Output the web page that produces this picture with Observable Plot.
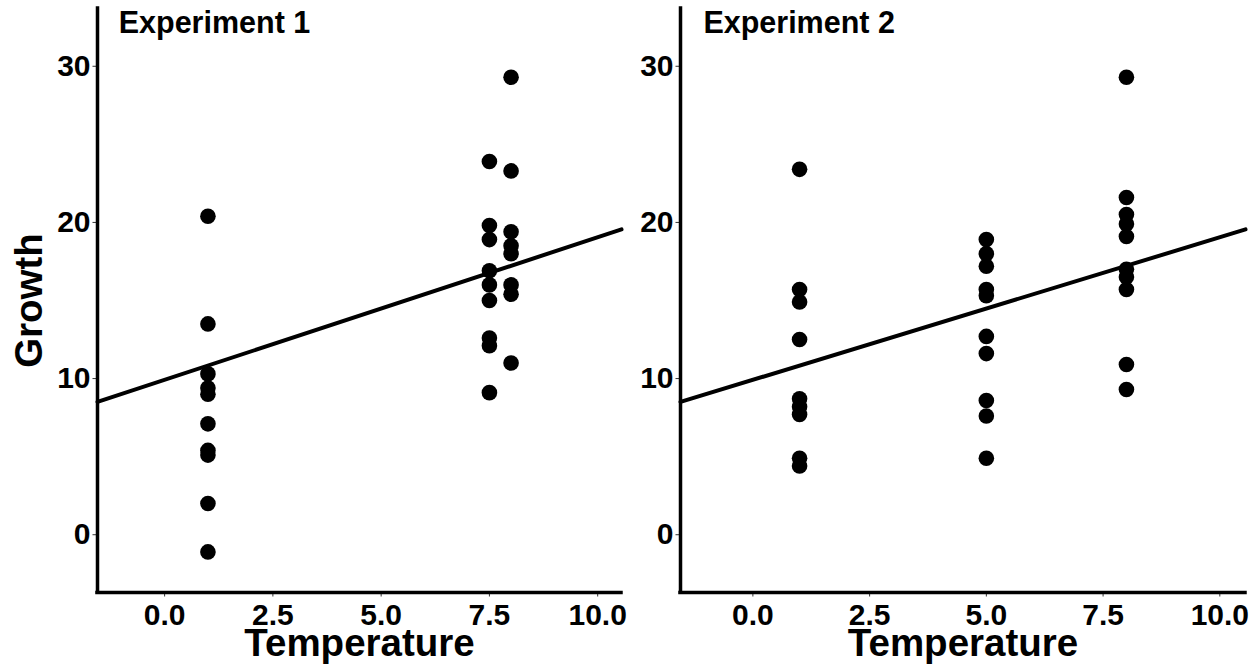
<!DOCTYPE html>
<html>
<head>
<meta charset="utf-8">
<script src="https://cdn.jsdelivr.net/npm/d3@7"></script>
<script src="https://cdn.jsdelivr.net/npm/@observablehq/plot@0.6"></script>
<style>
  html, body { margin: 0; padding: 0; background: #fff; }
  #wrap { display: flex; width: 1260px; height: 671px; }
</style>
</head>
<body>
<div id="wrap"></div>
<script>
// ---- data ----
const panelTitles = ["Experiment 1", "Experiment 2"];
const xLabel = "Temperature";
const yLabel = "Growth";

const exp1Temp   = [1, 1, 1, 1, 1, 1, 1, 1, 1, 1,
                    7.5, 7.5, 7.5, 7.5, 7.5, 7.5, 7.5, 7.5, 7.5,
                    8, 8, 8, 8, 8, 8, 8, 8];
const exp1Growth = [20.4, 13.5, 10.3, 9.4, 9.0, 7.1, 5.4, 5.1, 2.0, -1.1,
                    23.9, 19.8, 18.9, 16.9, 16.0, 15.0, 12.6, 12.1, 9.1,
                    29.3, 23.3, 19.4, 18.5, 18.0, 16.0, 15.4, 11.0];

const exp2Temp   = [1, 1, 1, 1, 1, 1, 1, 1, 1,
                    5, 5, 5, 5, 5, 5, 5, 5, 5, 5,
                    8, 8, 8, 8, 8, 8, 8, 8, 8, 8];
const exp2Growth = [23.4, 15.7, 14.9, 12.5, 8.7, 8.2, 7.7, 4.9, 4.4,
                    18.9, 18.0, 17.2, 15.7, 15.3, 12.7, 11.6, 8.6, 7.6, 4.9,
                    29.3, 21.6, 20.5, 19.9, 19.1, 17.0, 16.5, 15.7, 10.9, 9.3];

const fitIntercept = 9.92;
const fitSlope = 0.913;

const xTicks = [0, 2.5, 5, 7.5, 10];
const yTicks = [0, 10, 20, 30];
const xDomain = [-1.55, 10.55];
const yDomain = [-3.7, 33.7];
const titleX = -1.06;
const titleY = 32.1;

// ---- drawing ----
function panel(temps, growth, title, opts) {
  const pts = temps.map((t, i) => ({t, g: growth[i]}));
  const fit = xDomain.map(t => ({t, g: fitIntercept + fitSlope * t}));
  const marks = [
    Plot.axisX({ticks: xTicks, tickFormat: d3.format(".1f"), tickSize: 4.5, tickPadding: 7,
                stroke: "#333", strokeWidth: 1, fontSize: 30, fontWeight: "bold", label: null}),
    Plot.axisY({ticks: yTicks, tickSize: 4.5, tickPadding: 2.5,
                stroke: "#333", strokeWidth: 1, fontSize: 30, fontWeight: "bold", label: null}),
    Plot.ruleX([xDomain[0]], {stroke: "black", strokeWidth: 3.5, strokeLinecap: "square"}),
    Plot.ruleY([yDomain[0]], {stroke: "black", strokeWidth: 3.5, strokeLinecap: "square"}),
    Plot.dot(pts, {x: "t", y: "g", r: 7.8, fill: "black", stroke: null}),
    Plot.line(fit, {x: "t", y: "g", stroke: "black", strokeWidth: 4}),
    Plot.text([title], {x: () => titleX, y: () => titleY, text: d => d, textAnchor: "start",
                        lineAnchor: "bottom", fontSize: 30.5, fontWeight: "bold", fill: "black"}),
    Plot.text([xLabel], {frameAnchor: "bottom", dy: 63, lineAnchor: "bottom", textAnchor: "middle",
                         text: d => d, fontSize: 38.5, fontWeight: "bold", fill: "black"})
  ];
  if (opts.showYLabel) {
    marks.push(Plot.text([yLabel], {frameAnchor: "left", dx: -68, rotate: -90, text: d => d,
                                    textAnchor: "middle", lineAnchor: "middle",
                                    fontSize: 38.5, fontWeight: "bold", fill: "black"}));
  }
  return Plot.plot({
    width: 630,
    height: 671,
    marginLeft: opts.marginLeft,
    marginRight: opts.marginRight,
    marginTop: 8,
    marginBottom: 79,
    style: {fontFamily: "'Liberation Sans', Arial, sans-serif", fontWeight: "bold", fontSize: "30px", color: "black", background: "white", overflow: "visible"},
    x: {domain: xDomain},
    y: {domain: yDomain},
    marks
  });
}

const wrap = document.getElementById("wrap");
wrap.appendChild(panel(exp1Temp, exp1Growth, panelTitles[0], {marginLeft: 97, marginRight: 9, showYLabel: true}));
wrap.appendChild(panel(exp2Temp, exp2Growth, panelTitles[1], {marginLeft: 50, marginRight: 15, showYLabel: false}));
</script>
</body>
</html>
